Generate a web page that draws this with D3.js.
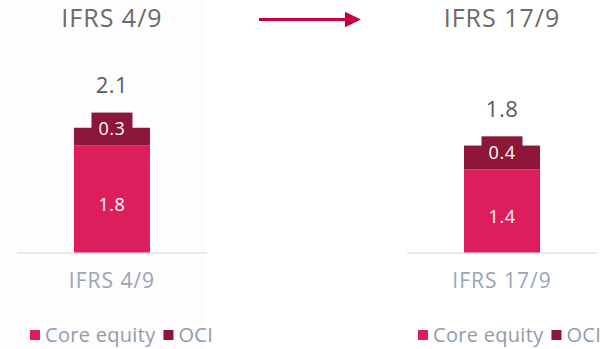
<!DOCTYPE html>
<html>
<head>
<meta charset="utf-8">
<script src="https://cdn.jsdelivr.net/npm/d3@7"></script>
<style>
  html, body { margin: 0; padding: 0; background: #ffffff; }
  svg { display: block; font-family: "Open Sans", sans-serif; }
</style>
</head>
<body>
<svg id="chart" width="610" height="349"></svg>
<script>
// Equity split before and after the IFRS 17/9 transition
const categories = ["IFRS 4/9", "IFRS 17/9"];
const coreEquity = [1.8, 1.4];
const oci = [0.3, 0.4];
const totals = [2.1, 1.8];
const seriesNames = ["Core equity", "OCI"];

const colors = { core: "#dc1f5c", oci: "#8c1738", arrow: "#c8003c" };

const svg = d3.select("#chart");

// very faint panel behind the left chart
svg.append("rect").attr("x", 0).attr("y", 0).attr("width", 205).attr("height", 349)
  .attr("fill", "#fefcfd");

const baseline = 252.5;
const y = d3.scaleLinear().domain([0, 3]).range([baseline, baseline - 178.2]);
const x = d3.scaleBand().domain(categories).range([17, 597]).paddingInner(0.513).paddingOuter(0);
const barW = 76;

const data = categories.map((c, i) => ({ cat: c, core: coreEquity[i], oci: oci[i], total: totals[i] }));

const panel = svg.selectAll("g.panel").data(data).join("g").attr("class", "panel");

// panel titles
panel.append("text")
  .attr("x", d => x(d.cat) + x.bandwidth() / 2)
  .attr("y", 26.5)
  .attr("text-anchor", "middle")
  .attr("font-size", 25)
  .attr("letter-spacing", 1)
  .attr("fill", "#6b6b6b")
  .text(d => d.cat);

// baseline per panel
panel.append("line")
  .attr("x1", d => x(d.cat)).attr("x2", d => x(d.cat) + x.bandwidth())
  .attr("y1", baseline + 0.5).attr("y2", baseline + 0.5)
  .attr("stroke", "#dde3e8").attr("stroke-width", 1.5);

const cx = d => x(d.cat) + x.bandwidth() / 2;

// core equity segment
panel.append("rect")
  .attr("x", d => cx(d) - barW / 2).attr("width", barW)
  .attr("y", d => y(d.core)).attr("height", d => y(0) - y(d.core))
  .attr("fill", colors.core);

// OCI segment
panel.append("rect")
  .attr("x", d => cx(d) - barW / 2).attr("width", barW)
  .attr("y", d => y(d.core + d.oci)).attr("height", d => y(d.core) - y(d.core + d.oci))
  .attr("fill", colors.oci);

// OCI value tag
const tagW = 41, tagH = 32;
panel.append("rect")
  .attr("x", d => cx(d) - tagW / 2).attr("width", tagW)
  .attr("y", d => y(d.core) - 1 - tagH).attr("height", tagH)
  .attr("fill", colors.oci);
panel.append("text")
  .attr("x", cx)
  .attr("y", d => y(d.core) - 1 - tagH / 2)
  .attr("dy", "0.35em")
  .attr("text-anchor", "middle")
  .attr("font-size", 18)
  .attr("letter-spacing", 0.5)
  .attr("fill", "#ffffff")
  .text(d => d.oci.toFixed(1));

// core value label
panel.append("text")
  .attr("x", cx)
  .attr("y", d => (y(d.core) + y(0)) / 2 + 5.5)
  .attr("dy", "0.35em")
  .attr("text-anchor", "middle")
  .attr("font-size", 18)
  .attr("letter-spacing", 0.5)
  .attr("fill", "#ffffff")
  .text(d => d.core.toFixed(1));

// total label
panel.append("text")
  .attr("x", cx)
  .attr("y", d => y(d.core) - 1 - tagH - 27)
  .attr("dy", "0.35em")
  .attr("text-anchor", "middle")
  .attr("font-size", 22)
  .attr("letter-spacing", 0.5)
  .attr("fill", "#4f5d6b")
  .text(d => d.total.toFixed(1));

// category label under axis
panel.append("text")
  .attr("x", cx)
  .attr("y", 288)
  .attr("text-anchor", "middle")
  .attr("font-size", 21)
  .attr("letter-spacing", 1)
  .attr("fill", "#97a6b3")
  .text(d => d.cat);

// legends
const legendLeft = [30, 418];
legendLeft.forEach(lx => {
  const lg = svg.append("g").attr("transform", `translate(${lx},0)`);
  let off = 0;
  seriesNames.forEach((name, i) => {
    lg.append("rect").attr("x", off).attr("y", 330).attr("width", 10).attr("height", 10)
      .attr("fill", i === 0 ? colors.core : colors.oci);
    const t = lg.append("text").attr("x", off + 15).attr("y", 342)
      .attr("font-size", 20).attr("letter-spacing", 0.3).attr("fill", "#8e9dab").text(name);
    off += 15 + t.node().getComputedTextLength() + 8;
  });
});

// transition arrow
svg.append("line").attr("x1", 259).attr("x2", 347).attr("y1", 19.5).attr("y2", 19.5)
  .attr("stroke", colors.arrow).attr("stroke-width", 3);
svg.append("path").attr("d", "M345,11.7 L361,19.5 L345,27.3 Z").attr("fill", colors.arrow);
</script>
</body>
</html>
